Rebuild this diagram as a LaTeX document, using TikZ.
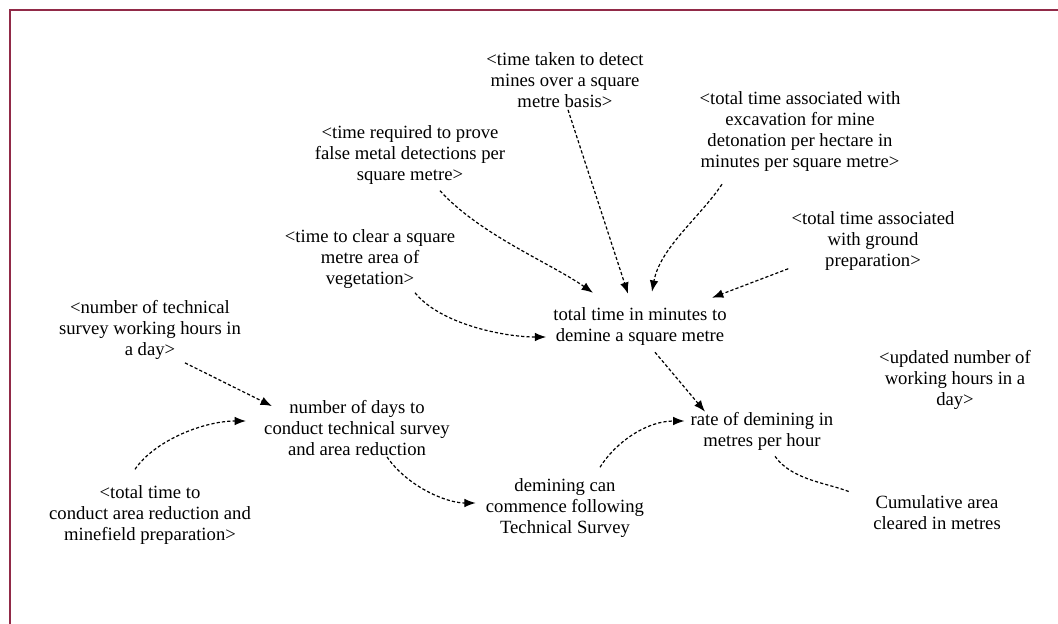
\documentclass[tikz,border=0pt]{standalone}
\usepackage{fontspec}
\setmainfont{Liberation Serif}
\usetikzlibrary{arrows.meta,calc}
\definecolor{framered}{RGB}{145,42,72}
\tikzset{
  var/.style={align=center,inner sep=0pt,font=\fontsize{14}{15.75}\selectfont},
  link/.style={dashed,dash pattern=on 2.4pt off 1.6pt,line width=0.9pt,
    -{Latex[length=8.5pt,width=6.5pt]}},
  plainlink/.style={dashed,dash pattern=on 2.4pt off 1.6pt,line width=0.9pt}
}
\begin{document}
\begin{tikzpicture}[x=0.75pt,y=-0.75pt]
\useasboundingbox (0,0) rectangle (1058,624);
\begin{scope}
  \clip (0,0) rectangle (1058,624);
  \draw[framered,line width=1.6pt] (10,10) rectangle (1080,650);
\end{scope}

% variables
\node[var] (timetaken) at (565,80) {<time taken to detect\\mines over a square\\metre basis>};
\node[var] (excav) at (800,132) {<total time associated with\\excavation for mine\\detonation per hectare in\\minutes per square metre>};
\node[var] (prove) at (410,155) {<time required to prove\\false metal detections per\\square metre>};
\node[var] (clear) at (370,259) {<time to clear a square\\metre area of\\vegetation>};
\node[var] (ground) at (873,241) {<total time associated\\with ground\\preparation>};
\node[var] (totaltime) at (640,327) {total time in minutes to\\demine a square metre};
\node[var] (updated) at (955,380) {<updated number of\\working hours in a\\day>};
\node[var] (tsworking) at (150,330) {<number of technical\\survey working hours in\\a day>};
\node[var] (days) at (357,428) {number of days to\\conduct technical survey\\and area reduction};
\node[var] (rate) at (762,431) {rate of demining in\\metres per hour};
\node[var] (commence) at (565,508) {demining can\\commence following\\Technical Survey};
\node[var] (conduct) at (150,515) {<total time to\\conduct area reduction and\\minefield preparation>};
\node[var] (cumulative) at (937,513) {Cumulative area\\cleared in metres};

% links into the time per square metre
\draw[link] ($(timetaken.south)+(3,2)$) -- ($(totaltime.north)+(-12,-14)$);
\draw[link] ($(excav.south)+(-78,12)$) .. controls ($(excav.south)+(-100,45)$) and ($(totaltime.north)+(20,-60)$) .. ($(totaltime.north)+(12,-16)$);
\draw[link] ($(prove.south)+(30,6)$) .. controls ($(prove.south)+(70,50)$) and ($(totaltime.north)+(-90,-45)$) .. ($(totaltime.north)+(-47,-15)$);
\draw[link] ($(ground.south west)+(-3,-2)$) -- ($(totaltime.north)+(72,-10)$);
\draw[link] ($(clear.south)+(45,4)$) .. controls ($(clear.south)+(70,35)$) and ($(totaltime.west)+(-50,10)$) .. ($(totaltime.west)+(-7,10)$);

% rate of demining
\draw[link] ($(totaltime.south)+(15,6)$) -- ($(rate.north)+(-57,0)$);
\draw[link] ($(commence.north)+(35,-11)$) .. controls ($(commence.north)+(50,-35)$) and ($(rate.west)+(-45,-10)$) .. ($(rate.west)+(-6,-10)$);
\draw[plainlink] ($(rate.south)+(13,6)$) .. controls ($(rate.south)+(30,30)$) and ($(cumulative.west)+(-45,-30)$) .. ($(cumulative.west)+(-23,-21)$);

% technical survey duration
\draw[link] ($(tsworking.south)+(35,3)$) -- ($(days.north west)+(8,6)$);
\draw[link] ($(conduct.north)+(-15,-16)$) .. controls ($(conduct.north)+(5,-45)$) and ($(days.west)+(-60,-7)$) .. ($(days.west)+(-18,-7)$);
\draw[link] ($(days.south)+(30,1)$) .. controls ($(days.south)+(50,30)$) and ($(commence.west)+(-40,-5)$) .. ($(commence.west)+(-10,-5)$);
\end{tikzpicture}
\end{document}
